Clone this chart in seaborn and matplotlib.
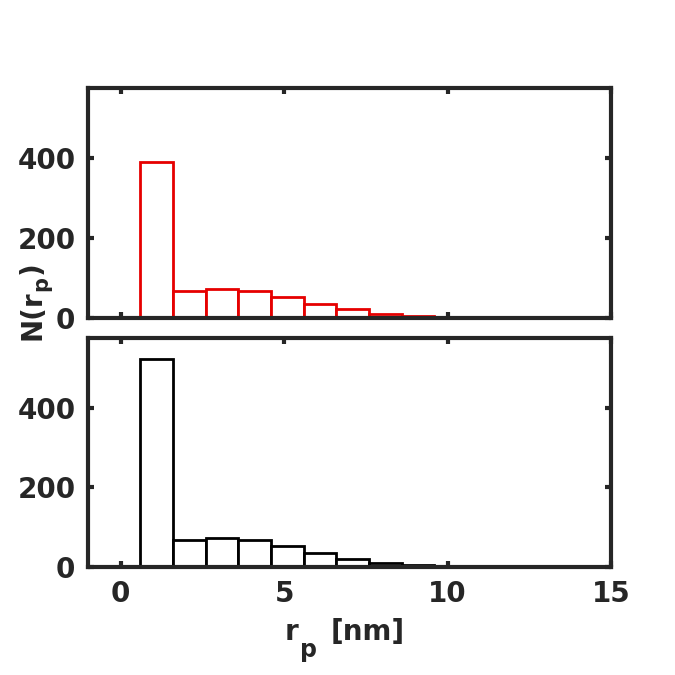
import numpy as np
import matplotlib
matplotlib.use("Agg")
import matplotlib.pyplot as plt
import seaborn as sns

# ---- data ----
bin_edges = [0.6, 1.6, 2.6, 3.6, 4.6, 5.6, 6.6, 7.6, 8.6, 9.6]
counts_top = [390, 67, 72, 67, 52, 35, 22, 10, 5]
counts_bottom = [522, 67, 72, 67, 52, 35, 20, 10, 5]
xticks = [0, 5, 10, 15]
yticks = [0, 200, 400]

sns.set_theme(style="white")
plt.rcParams["font.family"] = ["DejaVu Sans"]

dark = "#262626"
W = 675
fig = plt.figure(figsize=(6.75, 6.75), dpi=100)
ax_top = fig.add_axes([88/W, 1-318/W, 523/W, 230/W])
ax_bot = fig.add_axes([88/W, 1-567/W, 523/W, 229/W])

centers = [(a + b) / 2 for a, b in zip(bin_edges[:-1], bin_edges[1:])]

for ax, counts, col in [(ax_top, counts_top, "#e60000"), (ax_bot, counts_bottom, "black")]:
    sns.histplot(x=centers, weights=counts, bins=bin_edges, fill=False,
                 element="bars", color=col, linewidth=2.0, ax=ax)
    for p in ax.patches:
        p.set_edgecolor(col)
        p.set_facecolor("white")
        p.set_linewidth(2.0)
    ax.set_xlim(-1, 15)
    ax.set_ylim(0, 575)
    ax.set_xticks(xticks)
    ax.set_yticks(yticks)
    ax.set_ylabel("")
    ax.set_xlabel("")
    for s in ax.spines.values():
        s.set_visible(True)
        s.set_linewidth(3.0)
        s.set_color(dark)
        s.set_zorder(5)
    ax.tick_params(direction="in", length=4, width=3, color=dark,
                   top=True, right=True, left=True, bottom=True,
                   labelsize=20, labelcolor=dark, pad=9)
    for lab in ax.get_xticklabels() + ax.get_yticklabels():
        lab.set_fontweight("bold")

ax_top.tick_params(labelbottom=False)

def px(x, y):
    return x / W, 1 - y / W

# x label "r_p [nm]" built in MATLAB style (large, low subscript)
kw = dict(fontweight="bold", color=dark, va="baseline", ha="left")
fig.text(*px(285, 640), "r", fontsize=20, **kw)
fig.text(*px(300, 657), "p", fontsize=17, **kw)
fig.text(*px(331, 640), "[nm]", fontsize=20, **kw)

# y label "N(r_p)" built the same way, rotated
kwy = dict(fontweight="bold", color=dark, va="baseline", ha="left",
           rotation=90, rotation_mode="anchor")
fig.text(*px(40, 340), "N(r", fontsize=20, **kwy)
fig.text(*px(47, 291), "p", fontsize=15, **kwy)
fig.text(*px(40, 274), ")", fontsize=20, **kwy)

fig.savefig("out.png", dpi=100)
